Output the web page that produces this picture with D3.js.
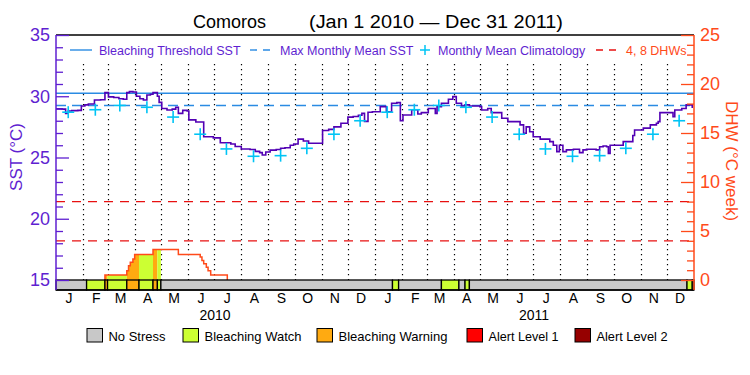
<!DOCTYPE html>
<html>
<head>
<meta charset="utf-8">
<script src="https://cdn.jsdelivr.net/npm/d3@7"></script>
<style>
  body { margin: 0; background: #fff; }
  text { font-family: "Liberation Sans", Arial, sans-serif; }
</style>
</head>
<body>
<svg id="chart" width="750" height="375"></svg>
<script>
// ---- data (days counted from Jan 1 2010) ----
const sstDays = [0, 7, 11, 14, 18, 25, 29, 33, 37, 44, 51, 56, 60, 66, 72, 77, 81, 84, 88, 92, 96, 100, 104, 108, 111, 116, 118, 121, 127, 133, 137, 140, 145, 150, 152, 160, 166, 169, 180, 188, 200, 205, 212, 222, 228, 233, 236, 240, 245, 252, 257, 262, 268, 272, 277, 283, 289, 296, 305, 312, 318, 326, 334, 340, 346, 350, 353, 357, 362,
  371, 378, 384, 390, 394, 397, 407, 414, 418, 426, 434, 436, 441, 449, 454, 458, 464, 468, 473, 485, 487, 494, 498, 510, 517, 531, 535, 538, 542, 546, 554, 565, 569, 573, 576, 580, 584, 592, 599, 603, 607, 618, 622, 626, 630, 632, 634, 649, 660, 662, 672, 680, 687, 689, 691, 706, 708, 716, 721, 728];
const sstValues = [28.97, 28.95, 28.6, 28.8, 28.83, 28.85, 29.2, 29.3, 29.37, 29.7, 29.72, 30.3, 29.95, 29.9, 29.8, 29.75, 30.3, 30.38, 30.35, 30.0, 29.8, 29.7, 30.1, 30.16, 30.3, 30.0, 29.5, 29.0, 28.88, 28.95, 29.1, 28.6, 28.85, 28.8, 28.07, 27.9, 27.9, 26.7, 26.6, 26.2, 26.1, 25.9, 25.7, 25.65, 25.5, 25.4, 25.2, 25.45, 25.6, 25.65, 25.75, 25.8, 26.0, 26.1, 26.5, 26.35, 26.16, 26.16, 27.2, 27.3, 27.5, 27.8, 28.3, 28.35, 28.45, 28.6, 27.95, 28.7, 28.74,
  29.15, 28.74, 29.43, 29.48, 28.0, 28.47, 28.9, 28.55, 28.66, 29.0, 28.6, 29.15, 29.43, 29.75, 29.97, 29.43, 29.2, 29.3, 29.2, 29.15, 28.88, 29.0, 28.66, 28.2, 27.93, 27.66, 26.98, 27.5, 27.1, 26.7, 26.5, 26.3, 26.0, 25.48, 26.0, 25.48, 25.62, 25.67, 25.4, 25.62, 25.67, 25.62, 25.88, 25.94, 25.88, 25.34, 26.0, 26.3, 26.8, 27.25, 27.4, 27.66, 27.8, 27.93, 28.66, 28.33, 28.88, 29.0, 29.3, 29.05];

const climatology = [28.7, 28.9, 29.25, 29.1, 28.3, 26.9, 25.7, 25.1, 25.15, 25.75, 26.9, 28.0];
const years = [2010, 2011];
const mmm = 29.25;
const bleachingThreshold = 30.25;
const dhwLevels = [4, 8];

const dhwDays = [56, 81, 83, 85, 88, 90, 111, 140, 165, 167, 169, 172, 174, 177, 196];
const dhwValues = [0.5, 0.95, 1.45, 1.8, 2.15, 2.6, 3.1, 2.6, 2.35, 2.0, 1.65, 1.3, 0.95, 0.5, 0];

const stressStart = [0, 35, 56, 59, 81, 95, 111, 116, 120, 385, 392, 441, 461, 468, 473, 722, 728];
const stressLevel = [0, 1, 2, 1, 2, 1, 2, 1, 0, 1, 0, 1, 0, 1, 0, 1, 0];

const stressNames = ["No Stress", "Bleaching Watch", "Bleaching Warning", "Alert Level 1", "Alert Level 2"];
const stressColors = ["#c8c8c8", "#ccff33", "#ffaa11", "#ff0000", "#960000"];

// ---- layout ----
const x0 = 56, x1 = 694, yTop = 35, yBase = 280, yBar = 290;
const purple = "#5f1fd1", sstColor = "#5200b4", blue = "#2a8be3", cyan = "#00c4f5";
const orange = "#ff4a1a", redDash = "#e81010";

const start = new Date(2010, 0, 1), end = new Date(2012, 0, 1);
const day = d => d3.timeDay.offset(start, d);

const x = d3.scaleTime().domain([start, end]).range([x0, x1]);
const ySst = d3.scaleLinear().domain([15, 35]).range([yBase, yTop]);
const yDhw = d3.scaleLinear().domain([0, 25]).range([yBase, yTop]);

const svg = d3.select("#chart");

// title
svg.append("text").attr("x", 193).attr("y", 27.5).attr("font-size", 18)
  .attr("textLength", 73).attr("lengthAdjust", "spacingAndGlyphs").text("Comoros");
svg.append("text").attr("x", 309).attr("y", 27.5).attr("font-size", 18)
  .attr("textLength", 254).attr("lengthAdjust", "spacingAndGlyphs").text("(Jan 1 2010 \u2014 Dec 31 2011)");

// month dotted lines
const monthStarts = d3.timeMonth.range(new Date(2010, 1, 1), end);
svg.append("g").selectAll("line").data(monthStarts).join("line")
  .attr("x1", d => Math.round(x(d)) + 0.5).attr("x2", d => Math.round(x(d)) + 0.5)
  .attr("y1", 64).attr("y2", yBase)
  .attr("stroke", "#000").attr("stroke-width", 1.2).attr("stroke-dasharray", "1.2,3.8");

// DHW 4 and 8 reference lines
svg.append("g").selectAll("line").data(dhwLevels).join("line")
  .attr("x1", x0).attr("x2", x1)
  .attr("y1", d => yDhw(d)).attr("y2", d => yDhw(d))
  .attr("stroke", redDash).attr("stroke-width", 1.3).attr("stroke-dasharray", "9,7");

// threshold and MMM
svg.append("line").attr("x1", x0).attr("x2", x1)
  .attr("y1", ySst(bleachingThreshold)).attr("y2", ySst(bleachingThreshold))
  .attr("stroke", blue).attr("stroke-width", 1.4);
svg.append("line").attr("x1", x0).attr("x2", x1)
  .attr("y1", ySst(mmm)).attr("y2", ySst(mmm))
  .attr("stroke", blue).attr("stroke-width", 1.4).attr("stroke-dasharray", "10,6");

// stress segments
const segments = stressStart.map((s, i) => ({
  start: s,
  end: i < stressStart.length - 1 ? stressStart[i + 1] : 730,
  level: stressLevel[i]
}));

// DHW fill coloured by stress, clipped per segment
const dhwPts = [[dhwDays[0], 0]].concat(dhwDays.map((d, i) => [d, dhwValues[i]]));
const dhwArea = d3.area().curve(d3.curveStepAfter)
  .x(d => x(day(d[0]))).y0(yBase).y1(d => yDhw(d[1]));
const defs = svg.append("defs");
segments.filter(s => s.level > 0).forEach((s, i) => {
  defs.append("clipPath").attr("id", "seg" + i).append("rect")
    .attr("x", x(day(s.start))).attr("y", yTop)
    .attr("width", x(day(s.end)) - x(day(s.start))).attr("height", yBase - yTop);
  svg.append("path").datum(dhwPts).attr("d", dhwArea)
    .attr("fill", stressColors[s.level]).attr("clip-path", "url(#seg" + i + ")");
});
svg.append("path").datum(dhwPts)
  .attr("d", d3.line().curve(d3.curveStepAfter).x(d => x(day(d[0]))).y(d => yDhw(d[1])))
  .attr("fill", "none").attr("stroke", orange).attr("stroke-width", 1.5);

// SST line
svg.append("path").datum(sstDays.map((d, i) => [d, sstValues[i]]))
  .attr("d", d3.line().curve(d3.curveStepAfter).x(d => x(day(d[0]))).y(d => ySst(d[1])))
  .attr("fill", "none").attr("stroke", sstColor).attr("stroke-width", 1.6);

// climatology crosses
const climPts = [];
years.forEach(yr => climatology.forEach((v, m) => climPts.push([new Date(yr, m, 15), v])));
const cross = svg.append("g").attr("stroke", cyan).attr("stroke-width", 1.6);
climPts.forEach(p => {
  const cx = x(p[0]), cy = ySst(p[1]);
  cross.append("line").attr("x1", cx - 6).attr("x2", cx + 6).attr("y1", cy).attr("y2", cy);
  cross.append("line").attr("x1", cx).attr("x2", cx).attr("y1", cy - 6).attr("y2", cy + 6);
});

// stress bar
svg.append("g").selectAll("rect").data(segments).join("rect")
  .attr("x", d => x(day(d.start))).attr("y", yBase)
  .attr("width", d => x(day(d.end)) - x(day(d.start))).attr("height", yBar - yBase)
  .attr("fill", d => stressColors[d.level]).attr("stroke", "#000").attr("stroke-width", 1.3);

// frame
svg.append("line").attr("x1", x0).attr("x2", x1).attr("y1", yTop).attr("y2", yTop).attr("stroke", "#000").attr("stroke-width", 1.5);
svg.append("line").attr("x1", x0).attr("x2", x1).attr("y1", yBar).attr("y2", yBar).attr("stroke", "#000").attr("stroke-width", 1.5);
svg.append("line").attr("x1", x0).attr("x2", x0).attr("y1", yTop).attr("y2", yBar).attr("stroke", purple).attr("stroke-width", 1.5);
svg.append("line").attr("x1", x1).attr("x2", x1).attr("y1", yTop).attr("y2", yBar).attr("stroke", orange).attr("stroke-width", 1.5);

// left axis
const gl = svg.append("g").attr("transform", `translate(${x0},0)`)
  .call(d3.axisLeft(ySst).tickValues(d3.range(15, 36)).tickSize(-7).tickPadding(6)
    .tickFormat(d => d % 5 === 0 ? d : ""));
gl.select(".domain").remove();
gl.selectAll(".tick line").attr("stroke", purple).attr("stroke-width", 1.3)
  .filter(d => d % 5 === 0).attr("x2", 13);
gl.selectAll(".tick text").attr("fill", purple).attr("font-size", 18)
  .attr("font-family", "Liberation Sans, Arial, sans-serif");

// right axis
const gr = svg.append("g").attr("transform", `translate(${x1},0)`)
  .call(d3.axisRight(yDhw).tickValues(d3.range(0, 26)).tickSize(-7).tickPadding(6)
    .tickFormat(d => d % 5 === 0 ? d : ""));
gr.select(".domain").remove();
gr.selectAll(".tick line").attr("stroke", orange).attr("stroke-width", 1.3)
  .filter(d => d % 5 === 0).attr("x2", -13);
gr.selectAll(".tick text").attr("fill", orange).attr("font-size", 18)
  .attr("font-family", "Liberation Sans, Arial, sans-serif");

// axis titles
svg.append("text").attr("transform", "translate(22,157) rotate(-90)")
  .attr("text-anchor", "middle").attr("fill", purple).attr("font-size", 17).text("SST (\u00b0C)");
svg.append("text").attr("transform", "translate(726,161) rotate(90)")
  .attr("text-anchor", "middle").attr("fill", orange).attr("font-size", 17).text("DHW (\u00b0C week)");

// month and year labels
const months = d3.timeMonth.range(start, end);
svg.append("g").selectAll("text").data(months).join("text")
  .attr("x", d => x(new Date(d.getFullYear(), d.getMonth(), 16)))
  .attr("y", 303).attr("text-anchor", "middle").attr("font-size", 14)
  .text(d => d3.timeFormat("%b")(d)[0]);
svg.append("g").selectAll("text").data(years).join("text")
  .attr("x", d => x(new Date(d, 6, 2))).attr("y", 320)
  .attr("text-anchor", "middle").attr("font-size", 14).text(d => d);

// top legend
const leg = svg.append("g").attr("font-size", 12.5).attr("fill", purple);
leg.append("line").attr("x1", 70).attr("x2", 92).attr("y1", 50).attr("y2", 50).attr("stroke", blue).attr("stroke-width", 1.4);
leg.append("text").attr("x", 99).attr("y", 54.5).text("Bleaching Threshold SST");
leg.append("line").attr("x1", 250).attr("x2", 273).attr("y1", 50).attr("y2", 50).attr("stroke", blue).attr("stroke-width", 1.4).attr("stroke-dasharray", "7,6");
leg.append("text").attr("x", 280).attr("y", 54.5).text("Max Monthly Mean SST");
leg.append("line").attr("x1", 420).attr("x2", 430).attr("y1", 50).attr("y2", 50).attr("stroke", cyan).attr("stroke-width", 1.5);
leg.append("line").attr("x1", 425).attr("x2", 425).attr("y1", 45).attr("y2", 55).attr("stroke", cyan).attr("stroke-width", 1.5);
leg.append("text").attr("x", 438).attr("y", 54.5).text("Monthly Mean Climatology");
leg.append("line").attr("x1", 596).attr("x2", 619).attr("y1", 50).attr("y2", 50).attr("stroke", redDash).attr("stroke-width", 1.4).attr("stroke-dasharray", "7,6");
leg.append("text").attr("x", 626).attr("y", 54.5).attr("fill", orange).text("4, 8 DHWs");

// bottom legend
const legX = [87, 183, 317, 467, 575];
const legW = [57, 97, 109, 70, 71];
const bl = svg.append("g");
stressNames.forEach((n, i) => {
  bl.append("rect").attr("x", legX[i]).attr("y", 328.5).attr("width", 15.5).attr("height", 13.5)
    .attr("fill", stressColors[i]).attr("stroke", "#000").attr("stroke-width", 1);
  bl.append("text").attr("x", legX[i] + 21.5).attr("y", 340.5).attr("font-size", 13.5)
    .attr("textLength", legW[i]).attr("lengthAdjust", "spacingAndGlyphs").text(n);
});
</script>
</body>
</html>
